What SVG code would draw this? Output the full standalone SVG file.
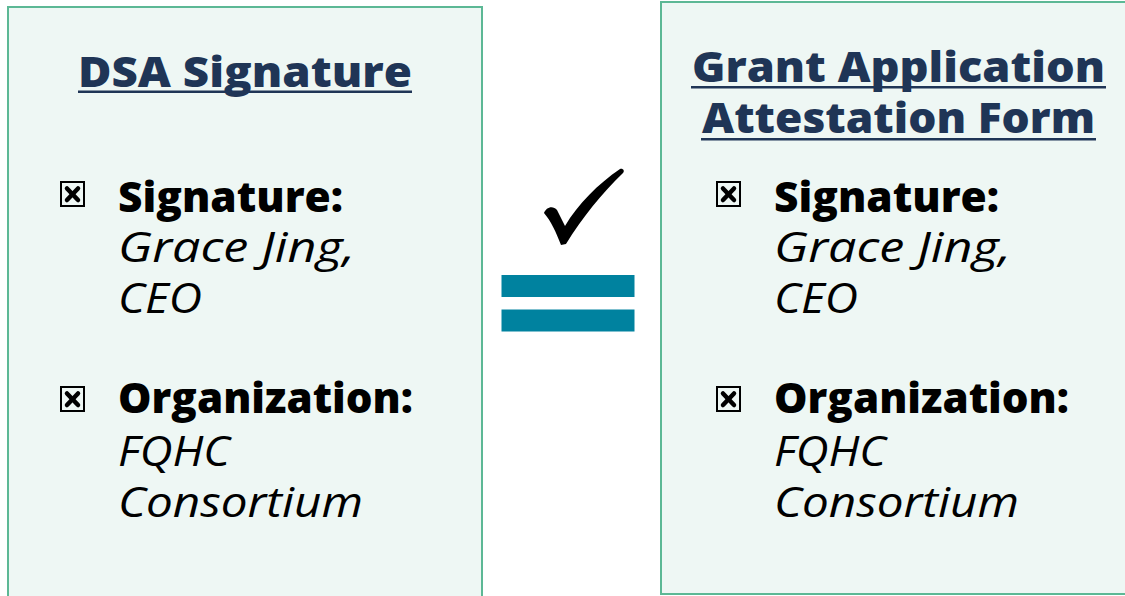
<svg xmlns="http://www.w3.org/2000/svg" width="1125" height="596" viewBox="0 0 1125 596">
  <style>
    .panel { fill: #EEF7F4; stroke: #5CB895; stroke-width: 2; }
    .title { font-family: "Open Sans", "Liberation Sans", sans-serif; font-weight: 800; font-size: 42px; fill: #1F3556; }
    .uline { fill: #1F3556; }
    .label { font-family: "Open Sans", "Liberation Sans", sans-serif; font-weight: 800; font-size: 42px; fill: #000; }
    .value { font-family: "Open Sans", "Liberation Sans", sans-serif; font-style: italic; font-size: 42px; fill: #000; }
    .cbox { fill: none; stroke: #000; stroke-width: 2; }
    .cx { stroke: #000; stroke-width: 4.5; stroke-linecap: round; }
    .eq { fill: #00829F; }
  </style>
  <defs>
    <g id="checkbox">
      <rect class="cbox" x="1" y="1" width="23" height="24"/>
      <line class="cx" x1="7" y1="7.5" x2="18" y2="19"/>
      <line class="cx" x1="18" y1="7.5" x2="7" y2="19"/>
    </g>
  </defs>

  <rect width="1125" height="596" fill="#FFFFFF"/>

  <!-- left panel: DSA signature -->
  <g id="dsa-panel">
    <rect class="panel" x="8" y="7" width="474" height="600"/>
    <text class="title" x="78" y="87" textLength="334" lengthAdjust="spacingAndGlyphs">DSA Signature</text>
    <rect class="uline" x="78" y="90.5" width="334" height="2.5"/>
    <use href="#checkbox" x="60" y="181"/>
    <text class="label" x="118" y="212" textLength="225" lengthAdjust="spacingAndGlyphs">Signature:</text>
    <text class="value" x="118" y="262" textLength="237" lengthAdjust="spacingAndGlyphs">Grace Jing,</text>
    <text class="value" x="118" y="313" textLength="84" lengthAdjust="spacingAndGlyphs">CEO</text>
    <use href="#checkbox" x="60" y="386"/>
    <text class="label" x="118" y="413" textLength="295" lengthAdjust="spacingAndGlyphs">Organization:</text>
    <text class="value" x="118" y="466" textLength="112" lengthAdjust="spacingAndGlyphs">FQHC</text>
    <text class="value" x="118" y="517" textLength="245" lengthAdjust="spacingAndGlyphs">Consortium</text>
  </g>

  <!-- right panel: grant application attestation form -->
  <g id="grant-panel">
    <rect class="panel" x="661" y="2" width="480" height="592"/>
    <text class="title" x="692" y="82" textLength="413" lengthAdjust="spacingAndGlyphs">Grant Application</text>
    <rect class="uline" x="691" y="86" width="415" height="2.5"/>
    <text class="title" x="702" y="133" textLength="393" lengthAdjust="spacingAndGlyphs">Attestation Form</text>
    <rect class="uline" x="701" y="138" width="395" height="2.5"/>
    <use href="#checkbox" x="716" y="181"/>
    <text class="label" x="774" y="212" textLength="225" lengthAdjust="spacingAndGlyphs">Signature:</text>
    <text class="value" x="774" y="262" textLength="237" lengthAdjust="spacingAndGlyphs">Grace Jing,</text>
    <text class="value" x="774" y="313" textLength="84" lengthAdjust="spacingAndGlyphs">CEO</text>
    <use href="#checkbox" x="716" y="386"/>
    <text class="label" x="774" y="413" textLength="295" lengthAdjust="spacingAndGlyphs">Organization:</text>
    <text class="value" x="774" y="466" textLength="112" lengthAdjust="spacingAndGlyphs">FQHC</text>
    <text class="value" x="774" y="517" textLength="245" lengthAdjust="spacingAndGlyphs">Consortium</text>
  </g>

  <!-- equality sign with tick between the panels -->
  <g id="equals">
    <path fill="#000" d="M544,213 C546,207 553,205 557,210 L565,226 C578,204 598,184 620,169 C623,168 625,171 623,173 C602,193 582,218 566,244 L561,245 C556,232 551,221 544,213 Z"/>
    <rect class="eq" x="501.5" y="275" width="133" height="22"/>
    <rect class="eq" x="501.5" y="309.5" width="133" height="22"/>
  </g>
</svg>
